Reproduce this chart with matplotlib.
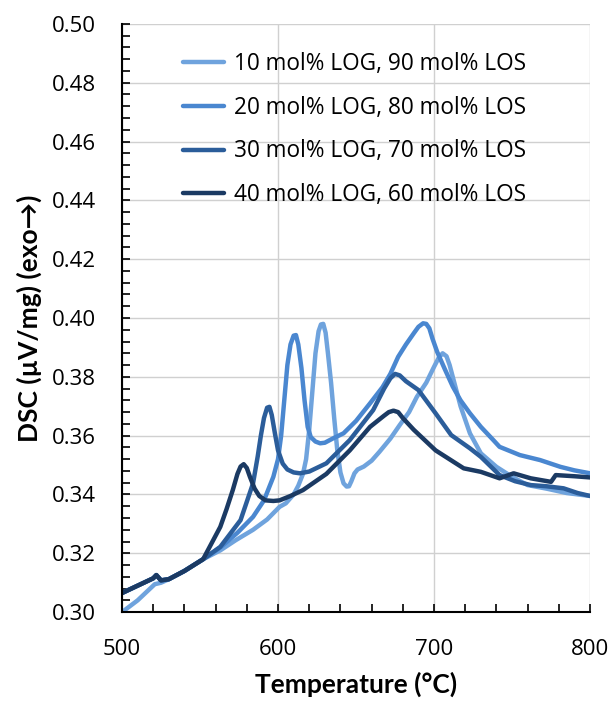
import matplotlib
matplotlib.use("Agg")
import matplotlib.pyplot as plt
from matplotlib.ticker import MultipleLocator, FormatStrFormatter

labels = ["10 mol% LOG, 90 mol% LOS", "20 mol% LOG, 80 mol% LOS",
          "30 mol% LOG, 70 mol% LOS", "40 mol% LOG, 60 mol% LOS"]
colors = ["#6fa3dd", "#4a87d0", "#2b5d9a", "#1b3a63"]

# 10 mol% LOG
t10 = [500, 510, 521, 525, 530, 540, 552, 563, 573, 584, 593, 601, 605, 610, 613, 616, 618, 620, 622,
       624, 626, 627.5, 629, 630.5, 632, 634, 636, 638, 640, 642, 644, 645.5, 647, 649, 651, 655, 660,
       665, 672, 678, 684, 689, 695, 700, 703, 705.5, 708, 710, 713, 717, 723, 730, 740, 750,
       760, 772, 785, 800]
v10 = [0.300, 0.304, 0.3095, 0.310, 0.3112, 0.314, 0.318, 0.321, 0.3245, 0.328, 0.3315, 0.3358, 0.337, 0.340, 0.343, 0.347, 0.352, 0.362, 0.375,
       0.388, 0.3955, 0.3978, 0.398, 0.395, 0.388, 0.378, 0.366, 0.355, 0.3475, 0.3438, 0.3427, 0.3428, 0.3445, 0.3472, 0.3485, 0.3495, 0.3515,
       0.3545, 0.359, 0.3636, 0.368, 0.3732, 0.378, 0.3834, 0.3865, 0.388, 0.387, 0.384, 0.378, 0.370, 0.3608, 0.354, 0.3494, 0.346,
       0.3432, 0.3420, 0.3405, 0.3395]

# 20 mol% LOG
t20 = [500, 510, 520, 522, 525, 530, 540, 552, 563, 574, 584, 591, 597, 600, 602, 604, 606, 608, 610, 611.5,
       613, 615, 617, 619, 621, 624, 627, 630, 635, 642, 650, 659, 667, 672, 677, 682, 687, 690, 693, 695,
       697, 699, 702, 707, 712, 717, 723, 730, 738, 742, 755, 768, 781, 790, 800]
v20 = [0.3065, 0.309, 0.3115, 0.3126, 0.3108, 0.3112, 0.314, 0.318, 0.322, 0.327, 0.3324, 0.338, 0.346, 0.352, 0.360, 0.372, 0.384, 0.391, 0.394, 0.3942,
       0.391, 0.383, 0.372, 0.363, 0.3595, 0.358, 0.3574, 0.3576, 0.359, 0.3608, 0.365, 0.371, 0.3765, 0.381, 0.3868, 0.391, 0.3948, 0.397, 0.3982, 0.398,
       0.3965, 0.393, 0.3885, 0.3825, 0.3767, 0.372, 0.3676, 0.363, 0.3585, 0.3562, 0.3534, 0.3517, 0.3494, 0.3482, 0.3472]

# 30 mol% LOG
t30 = [500, 510, 520, 522, 525, 530, 540, 552, 563, 576, 584, 587, 589, 591, 593, 594.5, 596, 598, 600, 603, 606,
       610, 614, 620, 631, 646, 661, 668, 672, 675, 678, 682, 690, 701, 711, 723, 730, 742, 752, 762, 772, 783, 792, 800]
v30 = [0.3065, 0.309, 0.3115, 0.3126, 0.3108, 0.3112, 0.314, 0.318, 0.3222, 0.3313, 0.3438, 0.353, 0.360, 0.366, 0.3695, 0.3698, 0.367, 0.3608, 0.355, 0.3505, 0.3485,
       0.3475, 0.3472, 0.3478, 0.3506, 0.3585, 0.3687, 0.376, 0.3795, 0.381, 0.3805, 0.3785, 0.3755, 0.3676, 0.3602, 0.3557, 0.3528, 0.3466, 0.3445, 0.3432, 0.3428, 0.3421, 0.3405, 0.3395]

# 40 mol% LOG
t40 = [500, 510, 520, 522, 525, 530, 540, 552, 563, 567, 571, 574, 576, 578, 580, 582, 585, 588, 592, 597, 601, 608, 616,
       631, 646, 659, 668, 671, 674, 677, 680, 687, 701, 719, 730, 742, 751, 762, 775, 778, 790, 800]
v40 = [0.3065, 0.309, 0.3115, 0.3126, 0.3108, 0.3112, 0.314, 0.318, 0.329, 0.335, 0.3415, 0.347, 0.3495, 0.3503, 0.349, 0.346, 0.342, 0.3395, 0.338, 0.3378, 0.338, 0.3395, 0.3415,
       0.347, 0.355, 0.363, 0.3668, 0.368, 0.3685, 0.368, 0.366, 0.362, 0.355, 0.3489, 0.3477, 0.3455, 0.3472, 0.3455, 0.3443, 0.3466, 0.3462, 0.3458]

series = [(t10, v10), (t20, v20), (t30, v30), (t40, v40)]

plt.rcParams['font.family'] = ['Open Sans', 'DejaVu Sans']
fig = plt.figure(figsize=(6.14, 7.02), dpi=100)
ax = fig.add_axes([0.1987, 0.128, 0.7623, 0.838])

for (t, v), c, lab in zip(series, colors, labels):
    ax.plot(t, v, color=c, lw=3.2, label=lab, solid_capstyle='round', solid_joinstyle='round')

ax.set_xlim(500, 800)
ax.set_ylim(0.30, 0.50)
ax.xaxis.set_major_locator(MultipleLocator(100))
ax.xaxis.set_minor_locator(MultipleLocator(20))
ax.yaxis.set_major_locator(MultipleLocator(0.02))
ax.yaxis.set_minor_locator(MultipleLocator(0.004))
ax.yaxis.set_major_formatter(FormatStrFormatter('%.2f'))
ax.tick_params(which='both', direction='in', length=6, width=1.2, labelsize=16, colors='black')
ax.tick_params(axis='x', pad=19)
ax.tick_params(axis='y', pad=19)
ax.grid(True, which='major', color='#d0d0d0', lw=1.0)
ax.set_axisbelow(True)
for s in ['top', 'right']:
    ax.spines[s].set_visible(False)
for s in ['left', 'bottom']:
    ax.spines[s].set_linewidth(1.5)

ax.set_xlabel('Temperature (°C)', fontsize=19, fontweight='bold', family=['Lato', 'DejaVu Sans'], labelpad=9)
ax.set_ylabel('DSC (µV/mg) (exo→)', fontsize=19, fontweight='bold', family=['Lato', 'DejaVu Sans'], labelpad=7)

leg = ax.legend(loc='upper left', bbox_to_anchor=(0.13, 0.952), frameon=False, fontsize=16.3,
                handlelength=1.8, handletextpad=0.45, labelspacing=0.87, borderpad=0, borderaxespad=0)

fig.savefig('out.png', dpi=100)
